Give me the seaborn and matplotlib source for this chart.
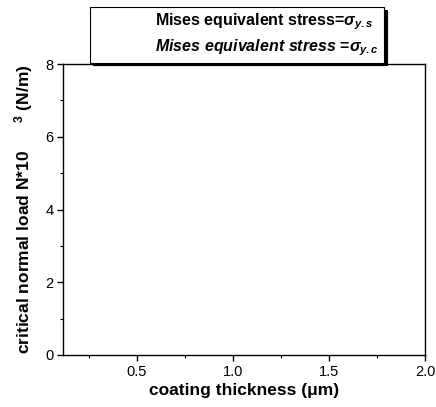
import matplotlib
matplotlib.use("Agg")
import matplotlib.pyplot as plt
import seaborn as sns
import numpy as np
from matplotlib.ticker import MultipleLocator

# Data (the reference shows no visible data marks)
series_labels = [r"Mises equivalent stress=$\sigma_{y.s}$",
                 r"$\it{Mises\ equivalent\ stress}$ =$\sigma_{y.c}$"]
thickness_s = []
load_s = []
thickness_c = []
load_c = []
x_ticks = [0.5, 1.0, 1.5, 2.0]
x_tick_labels = ["0.5", "1.0", "1.5", "2.0"]
y_ticks = [0, 2, 4, 6, 8]

sns.set_style("ticks")
plt.rcParams['font.family'] = ['Liberation Sans', 'DejaVu Sans']
plt.rcParams['text.color'] = 'black'
plt.rcParams['axes.labelcolor'] = 'black'
plt.rcParams['xtick.color'] = 'black'
plt.rcParams['ytick.color'] = 'black'
plt.rcParams['mathtext.fontset'] = 'custom'
plt.rcParams['mathtext.rm'] = 'Liberation Sans:bold'
plt.rcParams['mathtext.it'] = 'Liberation Sans:bold:italic'
plt.rcParams['mathtext.bf'] = 'Liberation Sans:bold'

fig = plt.figure(figsize=(4.36, 4.07), dpi=100)
ax = fig.add_axes([63/436, 1-355/407, (425-63)/436, (355-64)/407])

sns.lineplot(x=np.array(thickness_s, dtype=float), y=np.array(load_s, dtype=float), ax=ax)
h1, = ax.plot(thickness_s, load_s, linestyle='none', color='black', label=series_labels[0])
h2, = ax.plot(thickness_c, load_c, linestyle='none', color='black', label=series_labels[1])

ax.set_xlim(0.115, 2.0)
ax.set_ylim(0, 8)
ax.set_xticks(x_ticks)
ax.set_xticklabels(x_tick_labels)
ax.set_yticks(y_ticks)
ax.xaxis.set_minor_locator(MultipleLocator(0.25))
ax.yaxis.set_minor_locator(MultipleLocator(1))
ax.tick_params(which='major', direction='out', length=4, width=1, labelsize=10.5,
               colors='black', pad=3)
ax.tick_params(which='minor', direction='out', length=2, width=0.8, colors='black')
for s in ax.spines.values():
    s.set_color('black')
    s.set_linewidth(1.0)
    s.set_visible(True)

ax.set_xlabel("coating thickness (\u03bcm)", fontsize=12.5, fontweight='bold',
              labelpad=3, color='black')
ax.set_ylabel("critical normal load N*10      $^{3}$ (N/m)", fontsize=12.5,
              fontweight='bold', labelpad=7, color='black')

leg = ax.legend(handles=[h1, h2], loc='upper left', bbox_to_anchor=(0.0746, 1.196),
                borderaxespad=0.0,
                frameon=True, fancybox=False,
                shadow={'color': 'black', 'alpha': 1, 'ox': 2, 'oy': -2},
                framealpha=1, edgecolor='black', handlelength=3.4, handletextpad=0.4,
                borderpad=0.3, labelspacing=0.3, prop={'size': 11.5, 'weight': 'bold'})
leg.get_frame().set_linewidth(0.8)
for t in leg.get_texts():
    t.set_color('black')
leg.set_zorder(10)

fig.savefig("out.png", dpi=100)
